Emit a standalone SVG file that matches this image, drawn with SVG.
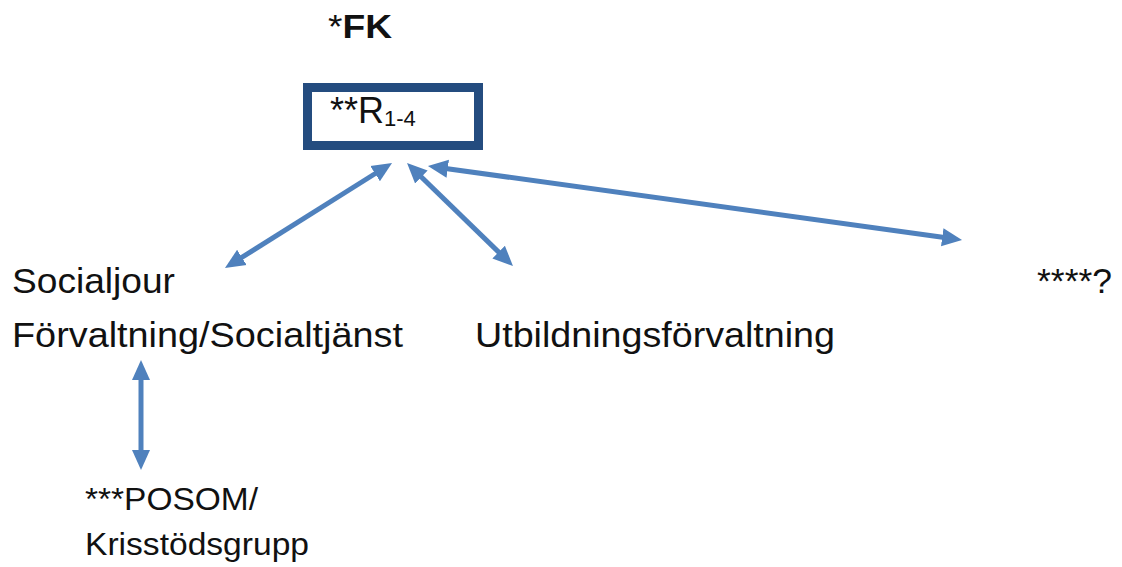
<svg xmlns="http://www.w3.org/2000/svg" width="1122" height="567" viewBox="0 0 1122 567">
<style>
text{font-family:"Liberation Sans",Arial,sans-serif;fill:#111;}
.lbl{font-size:35px;}
.small{font-size:32px;}
.conn{stroke:#4f81bd;stroke-width:5;fill:none;marker-start:url(#ah);marker-end:url(#ah);}
</style>
<defs>
<marker id="ah" markerUnits="userSpaceOnUse" markerWidth="22" markerHeight="20" viewBox="0 0 22 20" refX="4" refY="10" orient="auto-start-reverse">
<path d="M0,1 L20,10 L0,19 z" fill="#4f81bd"/>
</marker>
</defs>
<rect width="1122" height="567" fill="#fff"/>
<g id="fk">
<text x="328" y="38" font-size="34" textLength="64" lengthAdjust="spacingAndGlyphs"><tspan font-weight="normal">*</tspan><tspan font-weight="bold">FK</tspan></text>
</g>
<g id="r14">
<rect x="307.5" y="87.5" width="171" height="58" fill="none" stroke="#244c7f" stroke-width="9"/>
<text x="330" y="123" font-size="36">**R<tspan font-size="22" dy="3">1-4</tspan></text>
</g>
<g id="socialjour">
<text class="lbl" x="12" y="293" textLength="163" lengthAdjust="spacingAndGlyphs">Socialjour</text>
<text class="lbl" x="12" y="347" textLength="391" lengthAdjust="spacingAndGlyphs">Förvaltning/Socialtjänst</text>
</g>
<g id="utbildning">
<text class="lbl" x="475" y="347" textLength="360" lengthAdjust="spacingAndGlyphs">Utbildningsförvaltning</text>
</g>
<g id="unknown">
<text class="lbl" x="1037" y="293" textLength="75" lengthAdjust="spacingAndGlyphs">****?</text>
</g>
<g id="posom">
<text class="small" x="85" y="510" textLength="173" lengthAdjust="spacingAndGlyphs">***POSOM/</text>
<text class="small" x="85" y="555" textLength="224" lengthAdjust="spacingAndGlyphs">Krisstödsgrupp</text>
</g>
<g id="connectors">
<line class="conn" x1="238.5" y1="259.5" x2="378.5" y2="171.5"/>
<line class="conn" x1="418.5" y1="174.2" x2="501.5" y2="254.9"/>
<line class="conn" x1="443.8" y1="168.2" x2="946.2" y2="237.8"/>
<line class="conn" x1="141" y1="376" x2="141" y2="454"/>
</g>
</svg>
